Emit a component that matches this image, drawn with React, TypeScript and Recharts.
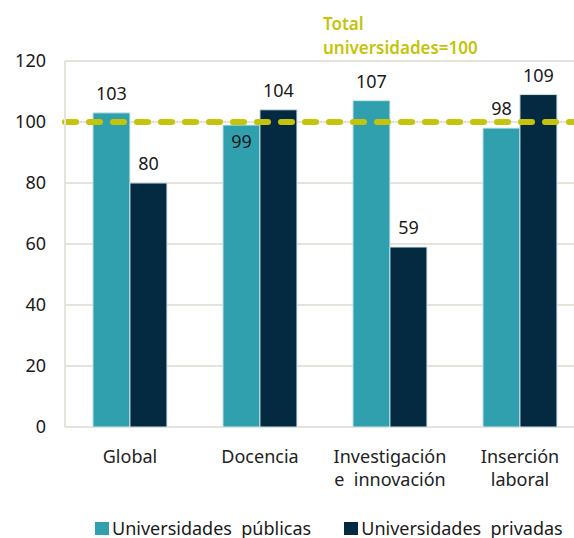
import { BarChart, Bar, XAxis, YAxis, CartesianGrid, ReferenceLine, LabelList } from "recharts";

const categories = ["Global", "Docencia", "Investigación\ne  innovación", "Inserción\nlaboral"];
const publicas = [103, 99, 107, 98];
const privadas = [80, 104, 59, 109];
const yTicks = [0, 20, 40, 60, 80, 100, 120];
const totalRef = 100;
const refLabel = ["Total", "universidades=100"];
// labels that sit inside the bar because they'd clash with the reference line
const insideLabels = ["Docencia|publicas"];

const data = categories.map((c, i) => ({ name: c, publicas: publicas[i], privadas: privadas[i] }));

const TEAL = "#30a0ae";
const NAVY = "#032a40";
const LIME = "#c4c40a";
const GRID = "#e6e2dc";
const FONT = "'Noto Sans', sans-serif";

function XTick({ x, y, payload }: any) {
  const lines = String(payload.value).split("\n");
  return (
    <text x={x} y={y} textAnchor="middle" fontFamily={FONT} fontSize={18} fill="#222">
      {lines.map((l, i) => (
        <tspan key={i} x={x} dy={i === 0 ? 28 : 23} style={{ whiteSpace: "pre" }}>
          {l}
        </tspan>
      ))}
    </text>
  );
}

function makeLabel(series: string) {
  return (props: any) => {
    const { x, y, width, value, index } = props;
    const inside = insideLabels.includes(`${categories[index]}|${series}`);
    return (
      <text
        x={x + width / 2}
        y={inside ? y + 23 : y - 13}
        textAnchor="middle"
        fontFamily={FONT}
        fontSize={18}
        fill="#1a1a1a"
      >
        {value}
      </text>
    );
  };
}

function RefLabel({ viewBox }: any) {
  const x = viewBox.x + 258;
  const y = viewBox.y - 92;
  return (
    <text x={x} y={y} fontFamily={FONT} fontSize={17} fontWeight={600} fill={LIME}>
      <tspan x={x} dy={0}>{refLabel[0]}</tspan>
      <tspan x={x} dy={24}>{refLabel[1]}</tspan>
    </text>
  );
}

function LegendRow() {
  const items = [
    { label: "Universidades  públicas", color: TEAL },
    { label: "Universidades  privadas", color: NAVY },
  ];
  return (
    <div
      style={{
        position: "absolute",
        left: 95,
        top: 516,
        display: "flex",
        gap: 33,
        fontFamily: FONT,
        fontSize: 18,
        color: "#1a1a1a",
        whiteSpace: "pre",
      }}
    >
      {items.map((it) => (
        <div key={it.label} style={{ display: "flex", alignItems: "center", gap: 3 }}>
          <span style={{ width: 14, height: 13, background: it.color, display: "inline-block" }} />
          <span>{it.label}</span>
        </div>
      ))}
    </div>
  );
}

export default function App() {
  return (
    <div style={{ position: "absolute", left: 0, top: 0, width: 574, height: 538, overflow: "hidden", background: "#fff" }}>
      <BarChart
        width={585}
        height={538}
        data={data}
        margin={{ top: 61, right: 0, left: 0, bottom: 81 }}
        barCategoryGap="21.5%"
        barGap={0}
      >
        <CartesianGrid vertical={false} stroke={GRID} strokeWidth={2} />
        <XAxis dataKey="name" height={30} tick={<XTick />} tickLine={false} axisLine={false} interval={0} />
        <YAxis
          width={65}
          domain={[0, 120]}
          ticks={yTicks}
          tickLine={false}
          axisLine={{ stroke: GRID, strokeWidth: 2 }}
          tickMargin={13}
          tick={{ fontFamily: FONT, fontSize: 18, fill: "#1a1a1a" }}
        />
        <Bar dataKey="publicas" fill={TEAL} stroke="#cfe6e9" strokeWidth={1} isAnimationActive={false}>
          <LabelList dataKey="publicas" content={makeLabel("publicas")} />
        </Bar>
        <Bar dataKey="privadas" fill={NAVY} stroke="#cfe0e6" strokeWidth={1} isAnimationActive={false}>
          <LabelList dataKey="privadas" content={makeLabel("privadas")} />
        </Bar>
        <ReferenceLine
          y={totalRef}
          stroke={LIME}
          strokeWidth={6}
          strokeDasharray="11 13"
          strokeLinecap="round"
          label={<RefLabel />}
        />
      </BarChart>
      <LegendRow />
    </div>
  );
}
